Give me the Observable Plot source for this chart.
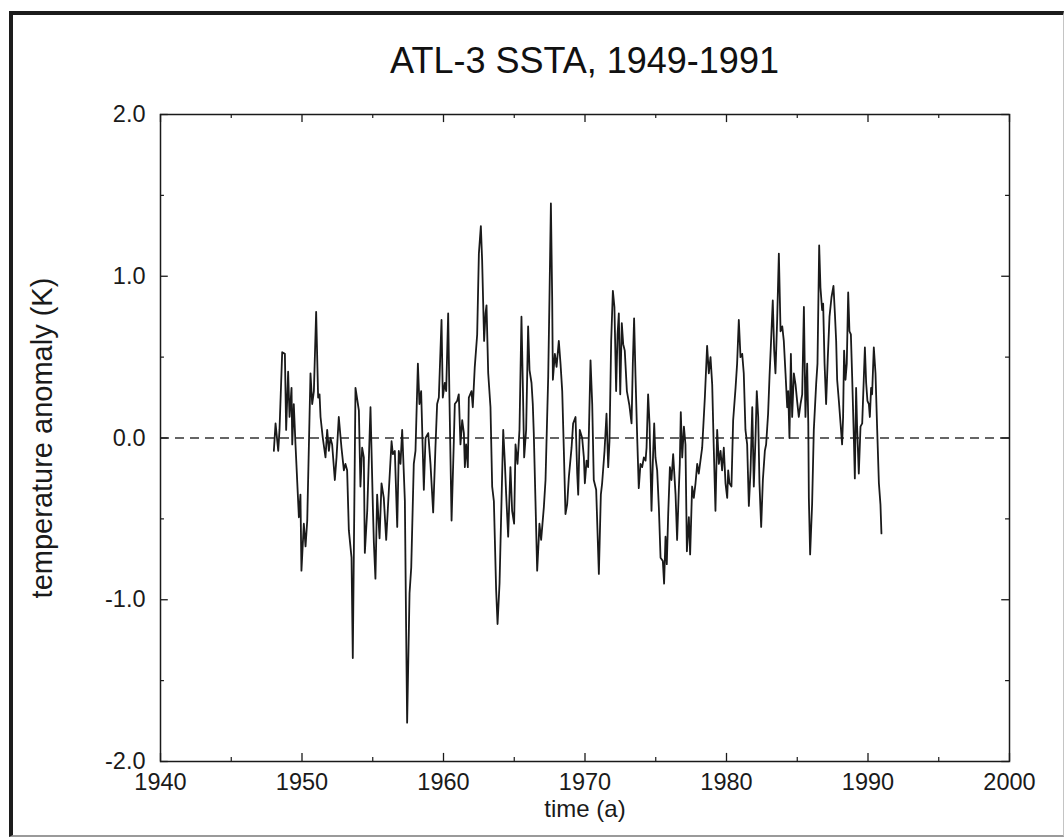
<!DOCTYPE html>
<html>
<head>
<meta charset="utf-8">
<script src="https://cdn.jsdelivr.net/npm/d3@7"></script>
<script src="https://cdn.jsdelivr.net/npm/@observablehq/plot@0.6"></script>
<style>
  body { margin: 0; background: #fff; }
  #wrap { position: relative; width: 1064px; height: 837px; overflow: hidden; font-family: "Liberation Sans", Arial, Helvetica, sans-serif; background: #fff; }
  #scanframe { position: absolute; left: 9px; top: 11px; width: 1050px; height: 820px;
    border-top: 4px solid #1c1c1c; border-left: 4px solid #1c1c1c; border-right: 1px solid #c4c4c4; border-bottom: 2px solid #9a9a9a; }
  #chart { position: absolute; left: 0; top: 0; }
  #title { position: absolute; left: 160px; width: 849px; top: 43px; text-align: center; font-size: 36px; line-height: 1; color: #111; }
</style>
</head>
<body>
<div id="wrap">
  <div id="scanframe"></div>
  <div id="chart"></div>
  <div id="title">ATL-3 SSTA, 1949-1991</div>
</div>
<script>
// ATL-3 sea surface temperature anomaly, [year, anomaly (K)]
const ssta = [
[1948.01,-0.08],[1948.13,0.09],[1948.32,-0.08],[1948.41,0.05],[1948.60,0.53],[1948.79,0.52],[1948.88,0.05],[1949.02,0.41],[1949.12,0.13],[1949.26,0.31],
[1949.31,-0.04],[1949.42,0.21],[1949.54,-0.04],[1949.78,-0.49],[1949.89,-0.35],[1949.96,-0.82],[1950.13,-0.53],[1950.25,-0.67],[1950.37,-0.51],[1950.60,0.40],
[1950.72,0.21],[1950.84,0.29],[1951.00,0.78],[1951.14,0.25],[1951.24,0.27],[1951.31,0.13],[1951.47,0.00],[1951.66,-0.12],[1951.78,0.05],[1951.90,-0.08],
[1952.01,0.00],[1952.13,-0.04],[1952.32,-0.26],[1952.44,-0.12],[1952.60,0.13],[1952.79,-0.06],[1952.96,-0.20],[1953.07,-0.16],[1953.19,-0.20],[1953.31,-0.57],
[1953.50,-0.74],[1953.59,-1.36],[1953.78,0.31],[1954.02,0.17],
[1954.13,-0.30],[1954.25,-0.06],[1954.37,-0.12],[1954.44,-0.71],[1954.61,-0.45],[1954.84,0.19],[1955.01,-0.43],[1955.08,-0.65],[1955.19,-0.87],[1955.31,-0.35],
[1955.48,-0.62],[1955.62,-0.28],[1955.78,-0.37],[1955.95,-0.63],[1956.14,-0.32],[1956.33,-0.02],[1956.42,-0.10],[1956.56,-0.08],[1956.73,-0.55],[1956.84,-0.08],
[1956.96,-0.16],[1957.08,0.05],[1957.27,-0.39],[1957.36,-1.19],[1957.43,-1.76],[1957.60,-0.96],[1957.72,-0.80],[1957.90,-0.16],[1958.02,-0.08],[1958.19,0.46],
[1958.30,0.21],[1958.42,0.29],[1958.61,-0.32],[1958.73,0.00],[1958.92,0.03],[1959.08,-0.16],[1959.27,-0.46],[1959.43,-0.06],[1959.55,0.21],[1959.67,0.25],
[1959.86,0.73],[1959.95,0.25],[1960.09,0.34],[1960.19,0.29],
[1960.33,0.77],[1960.42,0.25],[1960.57,-0.51],[1960.73,-0.02],[1960.80,0.21],[1960.97,0.23],[1961.08,0.27],[1961.20,-0.04],[1961.32,0.11],[1961.44,0.03],
[1961.51,-0.18],[1961.60,-0.04],[1961.72,-0.18],[1961.79,0.25],[1961.98,0.29],[1962.07,0.19],[1962.21,0.44],[1962.38,0.64],[1962.50,1.14],[1962.64,1.31],
[1962.73,1.10],[1962.87,0.60],[1962.97,0.77],[1963.04,0.82],[1963.16,0.40],[1963.32,0.19],[1963.44,-0.30],[1963.56,-0.39],[1963.72,-0.94],[1963.82,-1.15],
[1963.96,-0.90],[1964.10,-0.39],[1964.22,0.05],[1964.33,-0.14],[1964.43,-0.35],[1964.57,-0.61],[1964.73,-0.18],[1964.85,-0.45],[1964.99,-0.53],[1965.09,-0.04],
[1965.23,-0.16],[1965.37,0.05],[1965.51,0.75],[1965.61,0.31],[1965.70,-0.12],[1965.84,0.05],[1965.98,0.69],[1966.08,0.42],[1966.22,0.34],[1966.31,0.21],
[1966.38,0.03],[1966.50,-0.39],[1966.62,-0.82],[1966.74,-0.61],
[1966.78,-0.53],[1966.90,-0.63],[1967.09,-0.43],[1967.21,-0.26],[1967.40,0.38],[1967.49,0.87],[1967.59,1.45],[1967.68,0.87],[1967.73,0.36],[1967.87,0.52],
[1967.99,0.44],[1968.15,0.60],[1968.27,0.46],[1968.39,0.29],[1968.50,-0.06],[1968.62,-0.47],[1968.74,-0.41],[1968.86,-0.24],[1969.05,-0.06],[1969.16,0.09],
[1969.33,0.13],[1969.45,-0.22],[1969.52,-0.35],[1969.63,0.05],[1969.80,0.00],[1969.92,-0.12],[1969.99,-0.28],[1970.11,-0.14],[1970.22,-0.18],[1970.39,0.48],
[1970.51,0.21],[1970.62,-0.26],[1970.79,-0.32],[1970.98,-0.84],[1971.12,-0.35],[1971.21,-0.28],[1971.38,-0.08],[1971.52,0.15],[1971.64,-0.18],[1971.73,-0.02],
[1971.85,0.60],[1971.97,0.91],[1972.08,0.81],[1972.20,0.29],[1972.30,0.64],[1972.39,0.77],[1972.49,0.27],[1972.60,0.71],[1972.70,0.58],[1972.81,0.54],
[1972.96,0.29],
[1973.14,0.20],[1973.29,0.09],[1973.38,0.46],[1973.47,0.74],[1973.57,0.38],[1973.69,0.00],[1973.80,-0.31],[1973.92,-0.16],[1974.04,-0.18],[1974.16,-0.12],
[1974.28,-0.14],[1974.35,-0.06],[1974.46,0.27],[1974.56,0.09],[1974.70,-0.45],[1974.79,-0.16],[1974.89,0.09],[1974.98,-0.12],[1975.10,-0.20],[1975.22,-0.43],
[1975.34,-0.74],[1975.50,-0.76],[1975.59,-0.90],[1975.69,-0.61],[1975.78,-0.78],[1975.88,-0.47],[1976.00,-0.18],[1976.11,-0.26],[1976.23,-0.10],[1976.40,-0.35],
[1976.51,-0.63],[1976.63,-0.32],[1976.70,-0.16],[1976.77,0.16],[1976.87,-0.12],[1976.99,0.07],[1977.10,-0.04],[1977.20,-0.70],[1977.34,-0.49],[1977.43,-0.72],
[1977.57,-0.30],[1977.69,-0.37],[1977.81,-0.28],[1977.93,-0.16],[1978.04,-0.22],[1978.16,-0.14],[1978.28,-0.06],[1978.47,0.25],[1978.63,0.57],[1978.75,0.40],
[1978.87,0.50],[1978.99,0.33],[1979.10,-0.06],[1979.22,-0.45],
[1979.34,0.05],[1979.46,-0.16],[1979.58,-0.08],[1979.69,-0.20],[1979.81,-0.06],[1979.93,-0.28],[1980.05,-0.37],[1980.12,-0.20],[1980.21,-0.28],[1980.35,-0.30],
[1980.47,0.11],[1980.64,0.31],[1980.75,0.46],[1980.87,0.73],[1980.99,0.50],[1981.11,0.52],[1981.22,0.40],[1981.34,0.05],[1981.46,-0.04],[1981.58,-0.42],
[1981.70,-0.20],[1981.82,0.19],[1981.93,-0.30],[1982.05,0.00],[1982.14,0.29],[1982.24,0.13],[1982.33,-0.28],[1982.45,-0.55],[1982.57,-0.26],[1982.71,-0.08],
[1982.80,-0.04],[1982.94,0.15],[1983.04,0.38],[1983.16,0.62],[1983.27,0.85],[1983.37,0.54],[1983.46,0.40],[1983.58,0.73],[1983.70,1.14],[1983.82,0.66],
[1983.94,0.69],[1984.05,0.60],[1984.17,0.40],[1984.29,0.19],[1984.36,0.29],[1984.45,0.00],[1984.55,0.52],[1984.64,0.13],[1984.76,0.40],[1984.88,0.33],
[1984.99,0.23],[1985.11,0.13],[1985.23,0.21],[1985.35,0.27],[1985.47,0.81],[1985.58,0.13],[1985.70,0.46],[1985.78,0.09],
[1985.82,-0.37],[1985.91,-0.72],[1986.05,-0.41],[1986.17,0.05],[1986.34,0.34],[1986.43,0.46],[1986.55,1.19],[1986.64,0.93],[1986.76,0.79],[1986.83,0.83],
[1986.93,0.46],[1987.04,0.21],[1987.16,0.50],[1987.28,0.75],[1987.42,0.87],[1987.56,0.94],[1987.66,0.77],[1987.75,0.60],[1987.82,0.36],[1987.94,0.23],
[1988.06,0.09],[1988.17,-0.04],[1988.24,0.13],[1988.31,0.54],[1988.41,0.36],[1988.50,0.46],[1988.60,0.90],[1988.69,0.66],[1988.79,0.64],[1988.88,0.38],
[1989.00,0.00],[1989.07,-0.25],[1989.16,0.31],[1989.23,0.07],[1989.35,-0.22],[1989.47,0.07],[1989.59,0.09],[1989.70,0.36],[1989.78,0.56],[1989.87,0.34],
[1989.96,0.23],[1990.06,0.21],[1990.13,0.13],[1990.22,0.31],[1990.29,0.27],[1990.41,0.56],[1990.53,0.40],[1990.65,0.05],[1990.77,-0.28],[1990.88,-0.41],
[1990.95,-0.59]
];

const xMajorTicks = [1940, 1950, 1960, 1970, 1980, 1990, 2000];
const xMinorTicks = [1945, 1955, 1965, 1975, 1985, 1995];
const yMajorTicks = [-2, -1, 0, 1, 2];
const yMinorTicks = [-1.5, -0.5, 0.5, 1.5];
const xLabel = "time (a)";
const yLabel = "temperature anomaly (K)";

const rows = ssta.map(([year, value]) => ({year, value}));
const ink = "#1a1a1a";

const chart = Plot.plot({
  width: 1064,
  height: 837,
  marginLeft: 160,
  marginRight: 55,
  marginTop: 114,
  marginBottom: 76,
  style: {fontFamily: '"Liberation Sans", Arial, Helvetica, sans-serif', fontSize: "23.5px", color: ink, background: "transparent"},
  x: {domain: [1940, 2000]},
  y: {domain: [-2, 2]},
  marks: [
    Plot.ruleY([0], {stroke: "#333", strokeWidth: 1.4, strokeDasharray: "9,6"}),
    Plot.line(rows, {x: "year", y: "value", stroke: ink, strokeWidth: 1.8, strokeLinejoin: "round"}),
    // inward ticks on all four sides
    Plot.ruleX(xMajorTicks, {x: d => d, y1: -2, y2: -1.95, stroke: ink, strokeWidth: 1.3}),
    Plot.ruleX(xMajorTicks, {x: d => d, y1: 2, y2: 1.95, stroke: ink, strokeWidth: 1.3}),
    Plot.ruleX(xMinorTicks, {x: d => d, y1: -2, y2: -1.975, stroke: ink, strokeWidth: 1.2}),
    Plot.ruleX(xMinorTicks, {x: d => d, y1: 2, y2: 1.975, stroke: ink, strokeWidth: 1.2}),
    Plot.ruleY(yMajorTicks, {y: d => d, x1: 1940, x2: 1940.55, stroke: ink, strokeWidth: 1.3}),
    Plot.ruleY(yMajorTicks, {y: d => d, x1: 2000, x2: 1999.45, stroke: ink, strokeWidth: 1.3}),
    Plot.ruleY(yMinorTicks, {y: d => d, x1: 1940, x2: 1940.28, stroke: ink, strokeWidth: 1.2}),
    Plot.ruleY(yMinorTicks, {y: d => d, x1: 2000, x2: 1999.72, stroke: ink, strokeWidth: 1.2}),
    Plot.frame({stroke: ink, strokeWidth: 1.5}),
    Plot.axisX({ticks: xMajorTicks, tickSize: 0, tickPadding: 12, tickFormat: d => String(d), label: null, fill: ink}),
    Plot.axisY({ticks: yMajorTicks, tickSize: 0, tickPadding: 15, tickFormat: d => d.toFixed(1), label: null, fill: ink}),
    Plot.text([xLabel], {frameAnchor: "bottom", dy: 55, text: d => d, fontSize: 24, fill: ink}),
    Plot.text([yLabel], {frameAnchor: "left", textAnchor: "middle", dx: -118, rotate: -90, text: d => d, fontSize: 29, fill: ink})
  ]
});
document.getElementById("chart").appendChild(chart);
</script>
</body>
</html>
